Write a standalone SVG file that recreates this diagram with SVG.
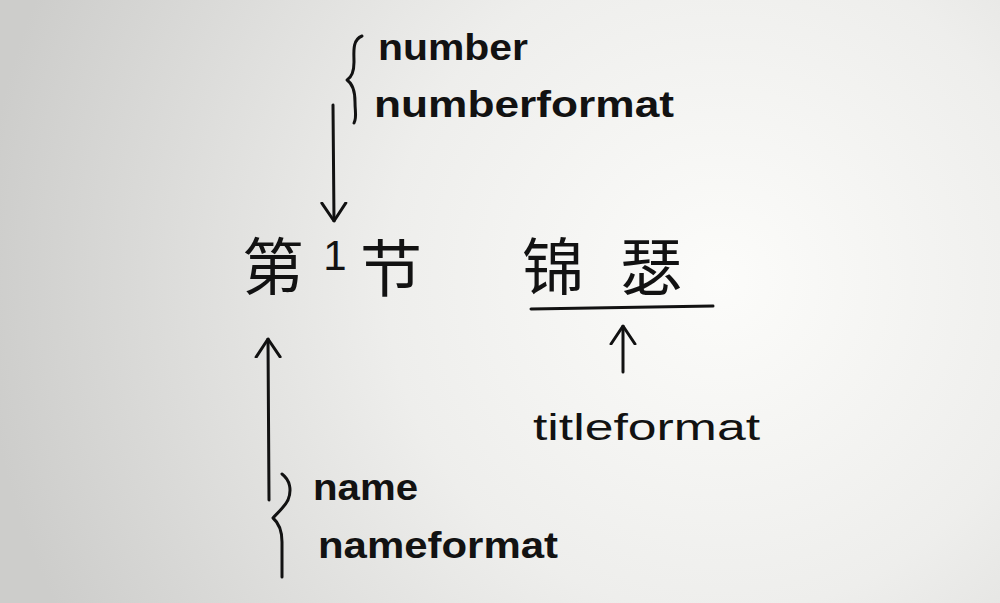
<svg xmlns="http://www.w3.org/2000/svg" width="1000" height="603" viewBox="0 0 1000 603">
<defs>
<radialGradient id="paper" cx="720" cy="280" r="740" gradientUnits="userSpaceOnUse">
<stop offset="0" stop-color="#fcfcfa"/>
<stop offset="0.45" stop-color="#eeeeec"/>
<stop offset="1" stop-color="#cdcdcb"/>
</radialGradient>
<marker id="vbig" viewBox="0 0 20 28" refX="19" refY="14" markerWidth="20" markerHeight="28" markerUnits="userSpaceOnUse" orient="auto">
<path d="M1,2 L19,14 L1,26" fill="none" stroke="#111" stroke-width="3" stroke-linecap="round" stroke-linejoin="round"/>
</marker>
</defs>
<style>
.lbl{font-family:"Liberation Sans","DejaVu Sans",sans-serif;font-size:36px;font-weight:bold;fill:#121212}
.thin{font-weight:normal}
.cjk{font-family:"Noto Sans CJK SC","Noto Sans CJK JP",sans-serif;font-size:62px;fill:#121212}
.ln{fill:none;stroke:#121212;stroke-width:3;stroke-linecap:round;stroke-linejoin:round}
</style>
<rect width="1000" height="603" fill="url(#paper)"/>

<g id="heading">
<text class="cjk" x="242" y="290">第</text>
<text class="lbl thin" x="335" y="270" text-anchor="middle" style="font-size:42px">1</text>
<text class="cjk" x="360" y="292">节</text>
</g>

<g id="title">
<text class="cjk" x="522" y="290">锦</text>
<text class="cjk" x="620" y="290">瑟</text>
<path class="ln" d="M531,309 L713,306"/>
</g>

<g id="number-labels">
<path class="ln" d="M362,36 C352,40 354,52 354,62 C354,72 352,77 347,80 C353,84 355,92 355,102 C355,112 357,118 354,123"/>
<text class="lbl" x="378" y="60" textLength="150" lengthAdjust="spacingAndGlyphs">number</text>
<text class="lbl" x="374" y="117" textLength="300" lengthAdjust="spacingAndGlyphs">numberformat</text>
</g>

<g id="name-labels">
<path class="ln" d="M282,474 C290,480 292,490 288,500 C284,508 276,514 273,518 C280,524 282,532 282,542 L282,577"/>
<text class="lbl" x="313" y="500" textLength="105" lengthAdjust="spacingAndGlyphs">name</text>
<text class="lbl" x="318" y="558" textLength="240" lengthAdjust="spacingAndGlyphs">nameformat</text>
</g>

<g id="titleformat-label">
<text class="lbl thin" x="533" y="440" textLength="227" lengthAdjust="spacingAndGlyphs">titleformat</text>
</g>

<g id="connectors">
<path class="ln" d="M333,105 L334,221" marker-end="url(#vbig)"/>
<path class="ln" d="M269,500 L268,339" marker-end="url(#vbig)"/>
<path class="ln" d="M623,372 L623,326" marker-end="url(#vbig)"/>
</g>
</svg>
